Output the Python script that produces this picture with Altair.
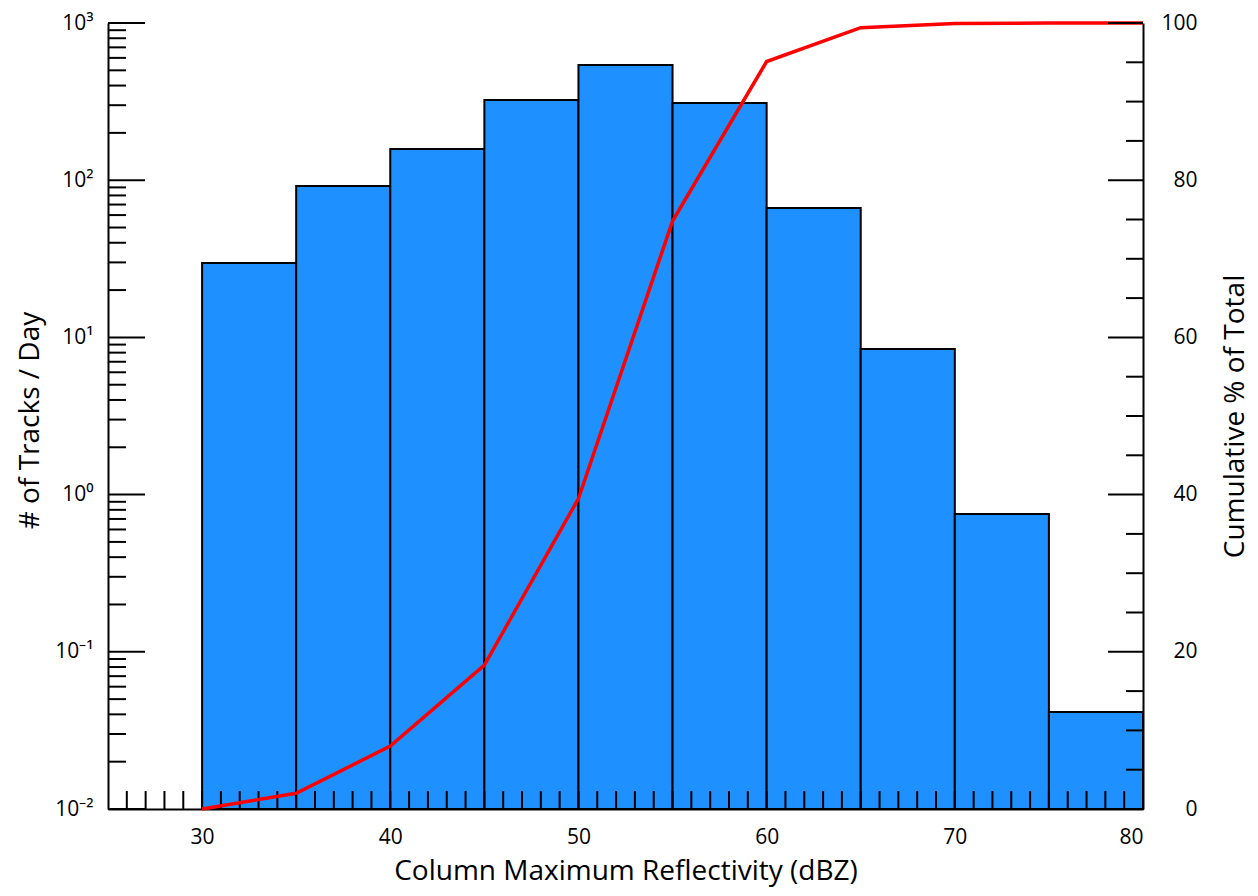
import altair as alt
import pandas as pd

# ---- data ----
bin_start = [30, 35, 40, 45, 50, 55, 60, 65, 70, 75]
bin_end = [35, 40, 45, 50, 55, 60, 65, 70, 75, 80]
tracks_per_day = [29.7, 91.8, 158, 324, 541, 310, 66.5, 8.44, 0.753, 0.0414]

cum_dbz = [30, 35, 40, 45, 50, 55, 60, 65, 70, 75, 80]
cum_pct = [0.0, 2.0, 8.0, 18.3, 39.5, 74.8, 95.1, 99.4, 99.95, 100.0, 100.0]

# ---- tick values ----
x_labels = [30, 40, 50, 60, 70, 80]
x_minor = list(range(26, 80))
left_major = [0.01, 0.1, 1, 10, 100, 1000]
left_minor = [k * 10.0 ** d for d in range(-2, 3) for k in range(2, 10)]
right_major = [0, 20, 40, 60, 80, 100]
right_minor = [5, 10, 15, 25, 30, 35, 45, 50, 55, 65, 70, 75, 85, 90, 95]

W, H = 1035, 786
FONT = "Open Sans"
TITLE_SIZE = 28
LABEL_SIZE = 21

df_bars = pd.DataFrame({"start": bin_start, "end": bin_end, "tracks": tracks_per_day})
df_cum = pd.DataFrame({"dbz": cum_dbz, "pct": cum_pct})

xscale = alt.Scale(domain=[25, 80], nice=False, zero=False)
xaxis = alt.Axis(values=x_labels, ticks=False, grid=False, domainWidth=2,
                 labelFontSize=LABEL_SIZE, labelPadding=17,
                 title="Column Maximum Reflectivity (dBZ)", titleFontSize=TITLE_SIZE,
                 titleY=62, titleX=W / 2, titleBaseline="middle", titleAlign="center")

ylscale = alt.Scale(type="log", domain=[0.01, 1000], nice=False)
ylaxis = alt.Axis(values=left_major, ticks=False, grid=False, domainWidth=2,
                  labelFontSize=LABEL_SIZE, labelPadding=15,
                  labelExpr="['10⁻²','10⁻¹','10⁰','10¹','10²','10³'][round(log(datum.value)/LN10)+2]",
                  title="# of Tracks / Day", titleFontSize=TITLE_SIZE, titleX=-78, titleY=H / 2 + 4,
                  titleAngle=270, titleBaseline="middle", titleAlign="center")

yrscale = alt.Scale(domain=[0, 100], nice=False, zero=True)
yraxis = alt.Axis(orient="right", values=right_major, ticks=False, grid=False, domainWidth=2,
                  labelFontSize=LABEL_SIZE, labelPadding=54, labelAlign="right",
                  title="Cumulative % of Total", titleFontSize=TITLE_SIZE, titleX=92, titleY=H / 2,
                  titleAngle=270, titleBaseline="middle", titleAlign="center")

bars = alt.Chart(df_bars).mark_bar(color="#1E90FF", stroke="black", strokeWidth=2).encode(
    x=alt.X("start:Q", scale=xscale, axis=xaxis),
    x2="end:Q",
    y=alt.Y("tracks:Q", scale=ylscale, axis=ylaxis),
    y2=alt.datum(0.01),
)

xt = alt.Chart(pd.DataFrame({"v": x_minor})).mark_rule(color="black", strokeWidth=2).encode(
    x=alt.X("v:Q", scale=xscale, axis=xaxis),
    y=alt.value(H), y2=alt.value(H - 18),
)

ylmaj = alt.Chart(pd.DataFrame({"v": left_major})).mark_rule(color="black", strokeWidth=2).encode(
    y=alt.Y("v:Q", scale=ylscale, axis=ylaxis),
    x=alt.value(0), x2=alt.value(37),
)
ylmin = alt.Chart(pd.DataFrame({"v": left_minor})).mark_rule(color="black", strokeWidth=2).encode(
    y=alt.Y("v:Q", scale=ylscale, axis=ylaxis),
    x=alt.value(0), x2=alt.value(18),
)

line = alt.Chart(df_cum).mark_line(color="#FF0000", strokeWidth=3.5).encode(
    x=alt.X("dbz:Q", scale=xscale, axis=xaxis),
    y=alt.Y("pct:Q", scale=yrscale, axis=yraxis),
)

yrmaj = alt.Chart(pd.DataFrame({"v": right_major})).mark_rule(color="black", strokeWidth=2).encode(
    y=alt.Y("v:Q", scale=yrscale, axis=yraxis),
    x=alt.value(W), x2=alt.value(W - 35),
)
yrmin = alt.Chart(pd.DataFrame({"v": right_minor})).mark_rule(color="black", strokeWidth=2).encode(
    y=alt.Y("v:Q", scale=yrscale, axis=yraxis),
    x=alt.value(W), x2=alt.value(W - 17),
)

left = alt.layer(bars, xt, ylmaj, ylmin)
right = alt.layer(line, yrmaj, yrmin)

chart = alt.layer(left, right).resolve_scale(y="independent").properties(
    width=W, height=H,
    padding={"left": 100, "top": 15, "right": 107, "bottom": 79},
    autosize=alt.AutoSizeParams(type="none"),
).configure_view(stroke=None).configure_axis(
    labelFont=FONT, titleFont=FONT, labelColor="black", titleColor="black",
    titleFontWeight="normal", domainColor="black",
)

chart.save("out.html", embed_options={"renderer": "svg", "actions": False})
